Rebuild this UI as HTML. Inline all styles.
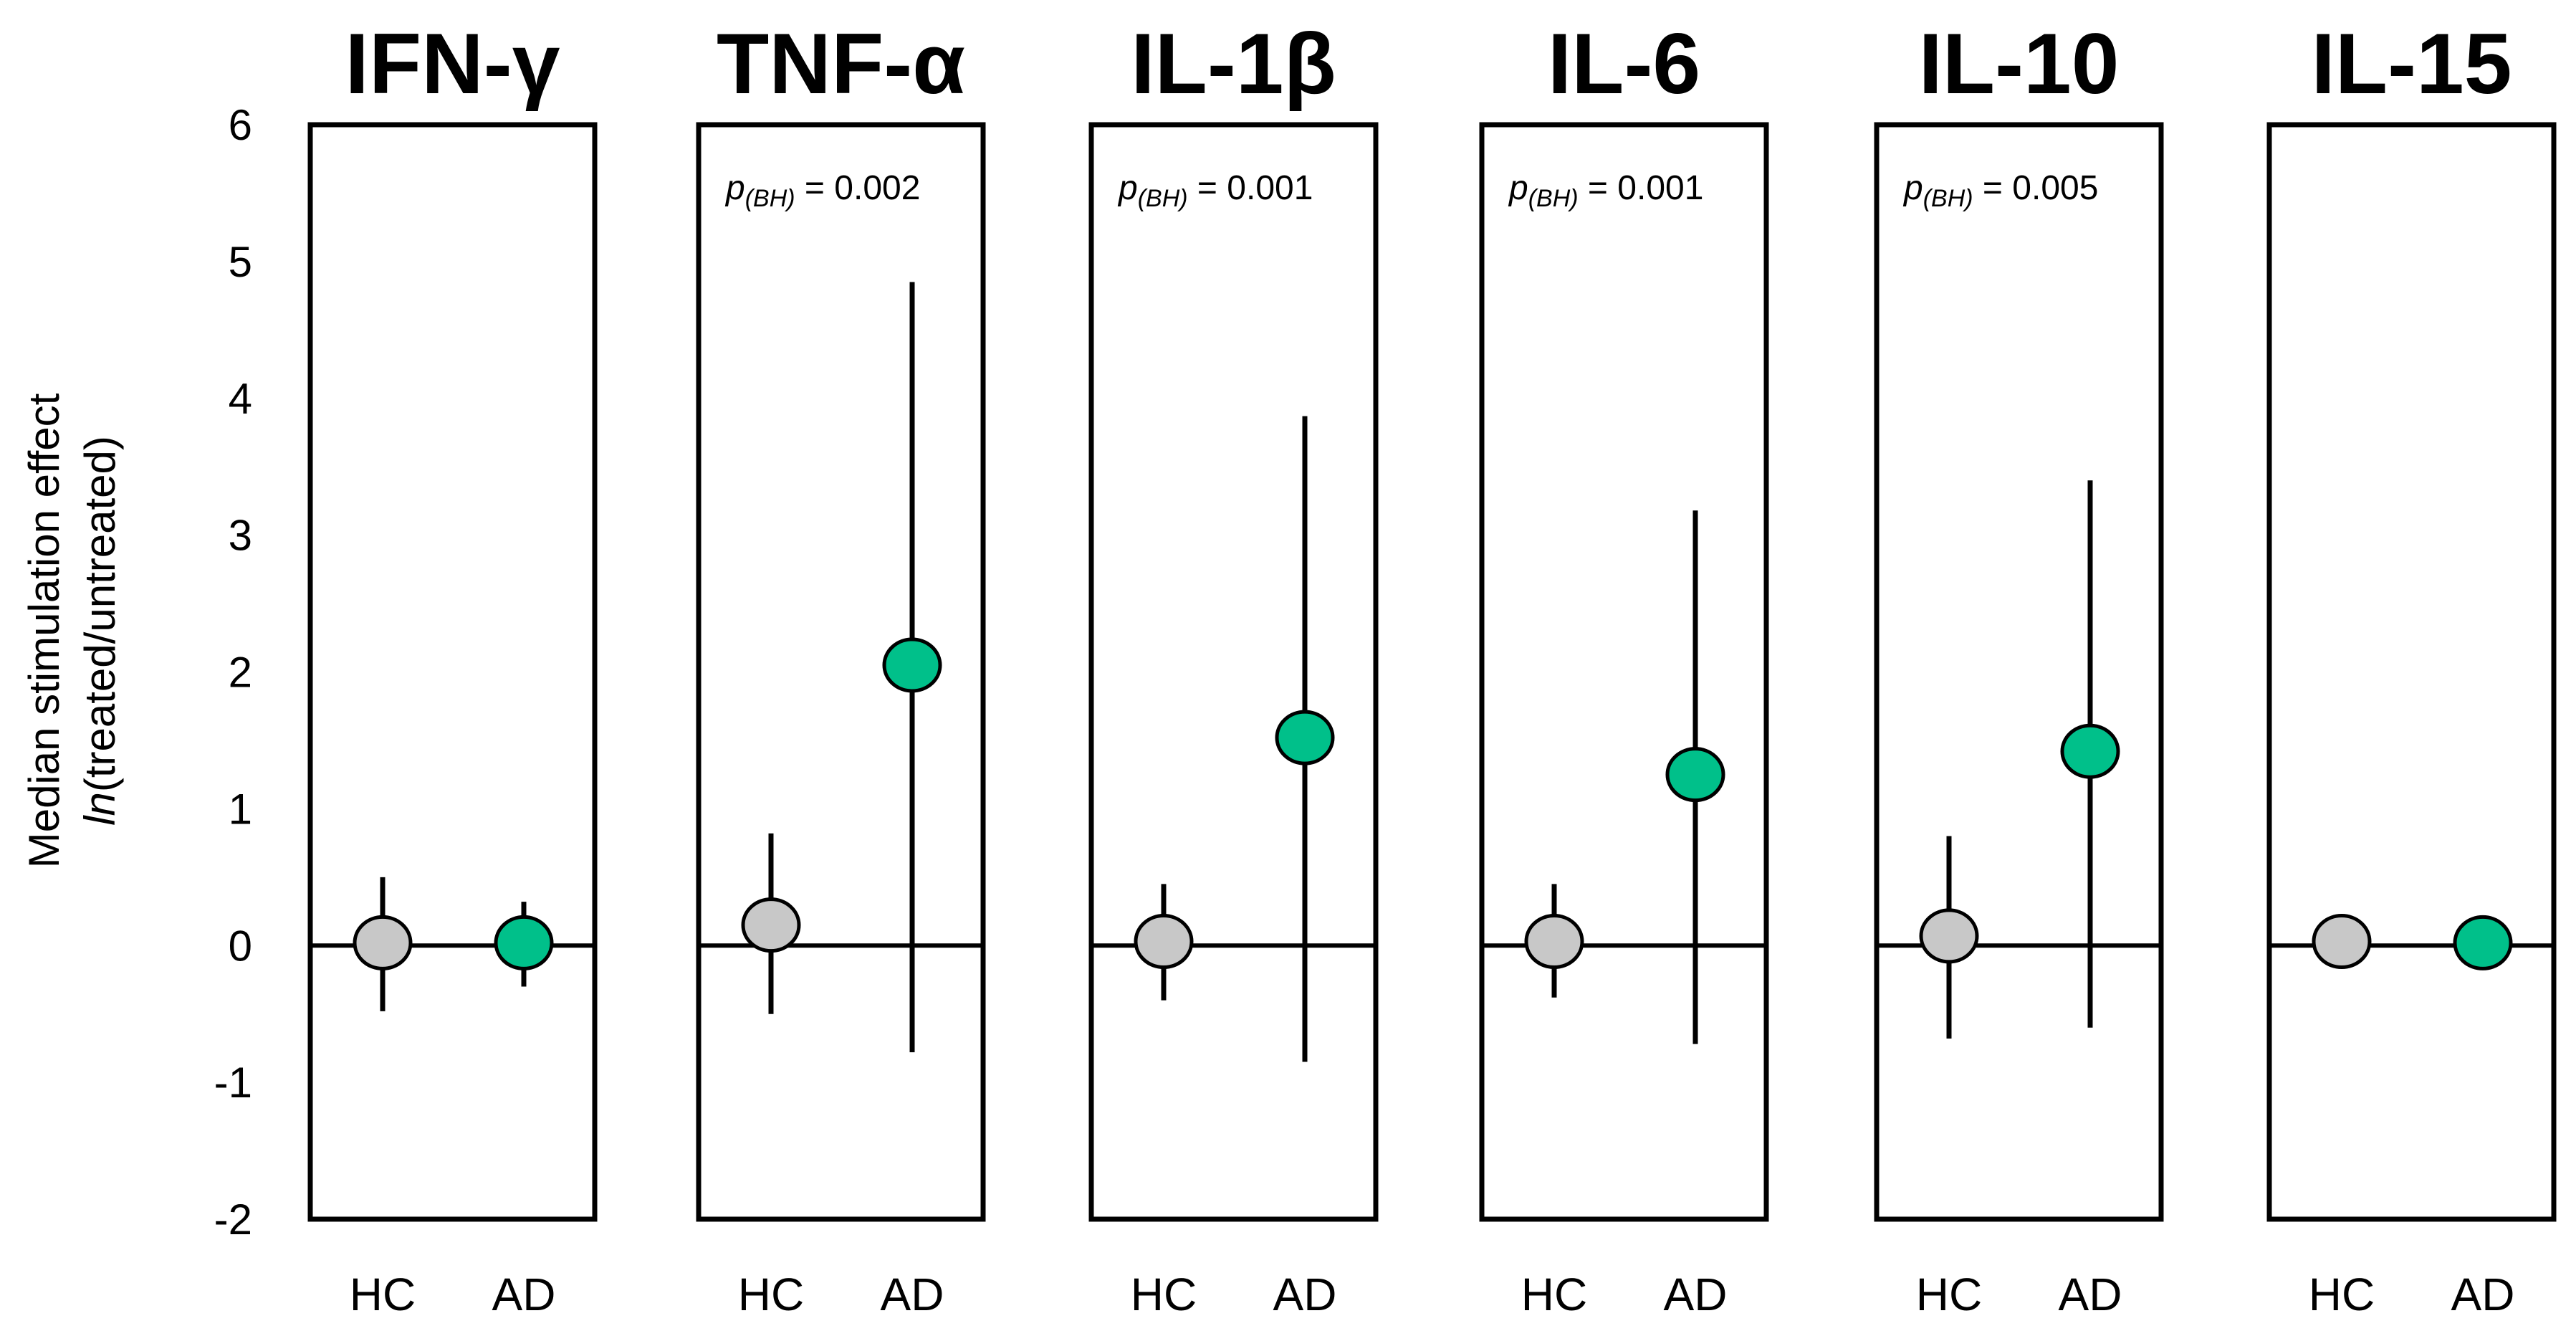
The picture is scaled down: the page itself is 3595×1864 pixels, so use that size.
<!DOCTYPE html>
<html><head><meta charset="utf-8"><style>
body{margin:0;background:#fff;}
svg{display:block;font-family:"Liberation Sans",sans-serif;}
</style></head><body>
<svg id="chart" width="3595" height="1864" viewBox="0 0 3595 1864" xmlns="http://www.w3.org/2000/svg"></svg>
<script>
const panels = ["IFN-γ","TNF-α","IL-1β","IL-6","IL-10","IL-15"];
const pvals = [null,"0.002","0.001","0.001","0.005",null];
const groups = ["HC","AD"];
const hcMed = [0.02,0.15,0.03,0.03,0.07,0.03];
const hcLo = [-0.48,-0.5,-0.4,-0.38,-0.68,null];
const hcHi = [0.5,0.82,0.45,0.45,0.8,null];
const adMed = [0.02,2.05,1.52,1.25,1.42,0.02];
const adLo = [-0.3,-0.78,-0.85,-0.72,-0.6,null];
const adHi = [0.32,4.85,3.87,3.18,3.4,null];
const yTicks = [6,5,4,3,2,1,0,-1,-2];

const NS="http://www.w3.org/2000/svg";
const svg=document.getElementById('chart');
const plotTop=174,plotBot=1701,yMax=6,yMin=-2;
const y=v=>plotTop+(yMax-v)/(yMax-yMin)*(plotBot-plotTop);
const panelLeft=[433,975,1523,2068,2619,3167], pw=397;
const gx=[101,298];
function mk(tag,attrs,parent){const e=document.createElementNS(NS,tag);for(const k in attrs)e.setAttribute(k,attrs[k]);(parent||svg).appendChild(e);return e;}

yTicks.forEach(t=>{
  const e=mk('text',{x:352,y:y(t)+21,'text-anchor':'end','font-size':60,fill:'#000'});
  
  
  e.textContent=String(t);
});
const yt=mk('text',{transform:'translate(82,880) rotate(-90)','text-anchor':'middle','font-size':60,fill:'#000'});


yt.textContent='Median stimulation effect';
const yt2=mk('text',{transform:'translate(160,880) rotate(-90)','text-anchor':'middle','font-size':60,fill:'#000'});


yt2.innerHTML='<tspan font-style="italic">ln</tspan>(treated/untreated)';

panels.forEach((name,i)=>{
  const L=panelLeft[i];
  const g=mk('g',{});
  
  
  const t=mk('text',{x:L+pw/2,y:130,'text-anchor':'middle','font-size':120,'font-weight':'bold',fill:'#000'},g);
  
  
  t.textContent=name;
  const r=mk('rect',{x:L,y:plotTop,width:pw,height:plotBot-plotTop,fill:'none',stroke:'#000','stroke-width':7},g);
  
  
  const z=mk('line',{x1:L,x2:L+pw,y1:y(0),y2:y(0),stroke:'#000','stroke-width':6},g);
  
  
  if(pvals[i]){
    const p=mk('text',{x:L+38,y:278,'font-size':48,fill:'#000'},g);
    
    
    p.innerHTML='<tspan font-style="italic">p</tspan><tspan font-style="italic" font-size="34" dy="10">(BH)</tspan><tspan dy="-10"> = '+pvals[i]+'</tspan>';
  }
  const sets=[[hcMed,hcLo,hcHi,'#c8c8c8'],[adMed,adLo,adHi,'#00c08a']];
  sets.forEach((s,j)=>{
    const cx=L+gx[j];
    if(s[1][i]!==null){
      const eb=mk('line',{x1:cx,x2:cx,y1:y(s[1][i]),y2:y(s[2][i]),stroke:'#000','stroke-width':7},g);
      
      
    }
    const c=mk('ellipse',{cx:cx,cy:y(s[0][i]),rx:39,ry:36,fill:s[3],stroke:'#000','stroke-width':5},g);
    
    
    const lb=mk('text',{x:cx,y:1828,'text-anchor':'middle','font-size':64,fill:'#000'},g);
    
    
    lb.textContent=groups[j];
  });
});
</script>
</body></html>
